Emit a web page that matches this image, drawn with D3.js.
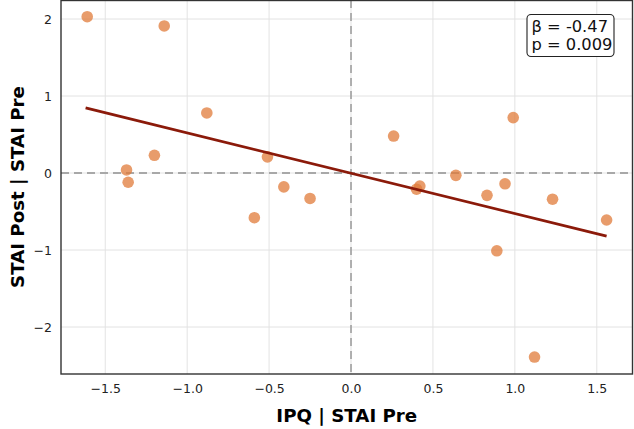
<!DOCTYPE html>
<html>
<head>
<meta charset="utf-8">
<script src="https://d3js.org/d3.v7.min.js"></script>
<style>
  body { margin: 0; background: #fff; }
  text { font-family: "DejaVu Sans", sans-serif; }
</style>
</head>
<body>
<div id="chart"></div>
<script>
// residuals
var ipqResid = [-1.61, -1.14, -0.88, -1.37, -1.36, -1.20, -0.51, -0.41, -0.25, -0.59,
                0.26, 0.99, 0.64, 0.42, 0.40, 0.83, 0.94, 1.23, 1.56, 0.89, 1.12];
var staiResid = [2.03, 1.91, 0.78, 0.04, -0.12, 0.23, 0.21, -0.18, -0.33, -0.58,
                 0.48, 0.72, -0.03, -0.17, -0.21, -0.29, -0.14, -0.34, -0.61, -1.01, -2.39];
// fitted line ends
var fitX = [-1.62, 1.56];
var fitY = [0.845, -0.82];
var xTicks = [-1.5, -1.0, -0.5, 0.0, 0.5, 1.0, 1.5];
var yTicks = [-2, -1, 0, 1, 2];
var statLines = ["β = -0.47", "p = 0.009"];

var W = 634, H = 429;
var margin = {top: 0, right: 1.5, bottom: 55, left: 61};
var width = W - margin.left - margin.right,
    height = H - margin.top - margin.bottom;

var svg = d3.select("#chart").append("svg")
    .attr("width", W).attr("height", H);
var g = svg.append("g")
    .attr("transform", "translate(" + margin.left + "," + margin.top + ")");

var x = d3.scaleLinear().domain([-1.77, 1.718]).range([0, width]);
var y = d3.scaleLinear().domain([-2.61, 2.247]).range([height, 0]);

// grid
g.selectAll(".gx").data(xTicks).enter().append("line")
  .attr("x1", d => x(d)).attr("x2", d => x(d))
  .attr("y1", 0).attr("y2", height)
  .attr("stroke", "#e3e3e3").attr("stroke-width", 1);
g.selectAll(".gy").data(yTicks).enter().append("line")
  .attr("y1", d => y(d)).attr("y2", d => y(d))
  .attr("x1", 0).attr("x2", width)
  .attr("stroke", "#e3e3e3").attr("stroke-width", 1);

// zero lines
g.append("line")
  .attr("x1", x(0)).attr("x2", x(0)).attr("y1", 0).attr("y2", height)
  .attr("stroke", "#a8a8a8").attr("stroke-width", 1.8).attr("stroke-dasharray", "8,5");
g.append("line")
  .attr("y1", y(0)).attr("y2", y(0)).attr("x1", 0).attr("x2", width)
  .attr("stroke", "#a8a8a8").attr("stroke-width", 1.8).attr("stroke-dasharray", "8,5");

// axes
var xAxis = g.append("g")
  .attr("transform", "translate(0," + height + ")")
  .call(d3.axisBottom(x).tickValues(xTicks).tickSize(0).tickPadding(10)
    .tickFormat(d => d3.format(".1f")(d).replace("-", "\u2212")));
var yAxis = g.append("g")
  .call(d3.axisLeft(y).tickValues(yTicks).tickSize(0).tickPadding(9)
    .tickFormat(d => String(d).replace("-", "\u2212")));
[xAxis, yAxis].forEach(function(a) {
  a.select(".domain").remove();
  a.selectAll("text").attr("font-size", 12.5).attr("fill", "#222")
    .attr("font-family", "DejaVu Sans, sans-serif");
});

// points
g.selectAll("circle").data(ipqResid).enter().append("circle")
  .attr("cx", d => x(d))
  .attr("cy", (d, i) => y(staiResid[i]))
  .attr("r", 5.8)
  .attr("fill", "#e07b39").attr("fill-opacity", 0.75);

// fit line
g.append("path")
  .datum(fitX.map((d, i) => [d, fitY[i]]))
  .attr("fill", "none").attr("stroke", "#8b1a0a").attr("stroke-width", 2.8)
  .attr("d", d3.line().x(d => x(d[0])).y(d => y(d[1])));

// frame
g.append("rect")
  .attr("x", 0).attr("y", 0.5).attr("width", width).attr("height", height - 0.5)
  .attr("fill", "none").attr("stroke", "#333").attr("stroke-width", 1.4);

// stats box
var bx = 527 - margin.left, by = 14.5;
g.append("rect")
  .attr("x", bx).attr("y", by).attr("width", 87).attr("height", 42)
  .attr("rx", 4).attr("fill", "#fff").attr("stroke", "#222").attr("stroke-width", 1.1);
g.selectAll(".stat").data(statLines).enter().append("text")
  .attr("x", bx + 4.5).attr("y", (d, i) => by + 17.5 + i * 17.5)
  .attr("font-size", 16.3).attr("fill", "#111")
  .text(d => d);

// axis labels
svg.append("text")
  .attr("x", margin.left + width / 2).attr("y", 422)
  .attr("text-anchor", "middle").attr("font-size", 18.2).attr("font-weight", "bold")
  .text("IPQ | STAI Pre");
svg.append("text")
  .attr("transform", "translate(24," + (margin.top + height / 2) + ") rotate(-90)")
  .attr("text-anchor", "middle").attr("font-size", 18.2).attr("font-weight", "bold")
  .text("STAI Post | STAI Pre");
</script>
</body>
</html>
